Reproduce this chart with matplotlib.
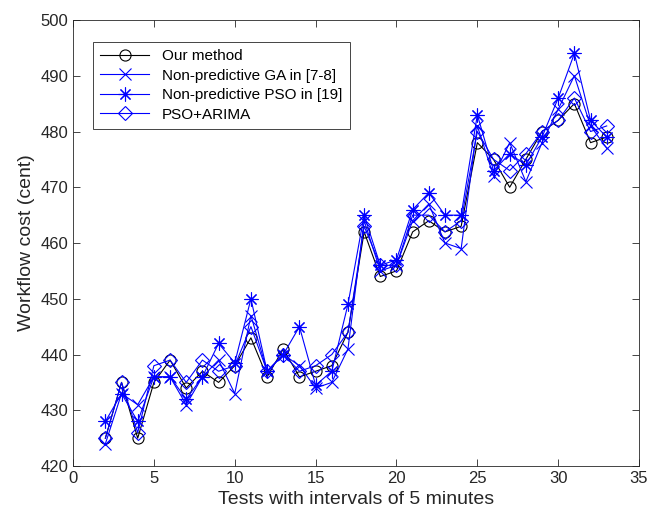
import matplotlib
matplotlib.use('Agg')
import matplotlib.pyplot as plt

plt.rcParams['font.family'] = ['Liberation Sans', 'DejaVu Sans']

# 테스트 번호 (5분 간격)
tests = list(range(2, 34))

our_method = [425, 435, 425, 435, 439, 434, 437, 435, 438, 443, 436, 441, 436, 437, 438, 444,
              462, 454, 455, 462, 464, 462, 463, 478, 475, 470, 475, 480, 482, 485, 478, 479]
ga = [424, 433, 431, 436, 436, 431, 436, 439, 433, 447, 437, 440, 438, 434, 435, 441,
      464, 455, 456, 464, 467, 460, 459, 481, 472, 478, 471, 478, 484, 490, 481, 477]
pso = [428, 433, 428, 436, 436, 432, 436, 442, 438.5, 450, 437, 440, 445, 434.5, 437, 449,
       465, 456, 457, 466, 469, 465, 465, 483, 473, 476, 474, 479, 486, 494, 482, 479]
pso_arima = [425, 435, 426, 438, 439, 435, 439, 437, 438, 445, 437, 440, 437, 438, 440, 444,
             463, 456, 456, 465, 465, 462, 464, 480, 475, 473, 476, 480, 482, 486, 480, 481]

labels = ['Our method', 'Non-predictive GA in [7-8]', 'Non-predictive PSO in [19]', 'PSO+ARIMA']

axcol = '#262626'
fig = plt.figure(figsize=(6.48, 5.19), dpi=100)
ax = fig.add_axes([0.1127, 0.102, 0.8735, 0.8595])

ax.plot(tests, our_method, color='black', lw=0.8, marker='o', ms=8, mfc='none', mew=0.8, label=labels[0])
ax.plot(tests, ga, color='#0000ff', lw=0.8, marker='x', ms=8, mew=0.8, label=labels[1])
ax.plot(tests, pso, color='#0000ff', lw=0.8, marker=(8, 2, 0), ms=10, mew=0.8, label=labels[2])
ax.plot(tests, pso_arima, color='#0000ff', lw=0.8, marker='D', ms=7, mfc='none', mew=0.8, label=labels[3])

ax.set_xlim(0, 35)
ax.set_ylim(420, 500)
ax.set_xticks(range(0, 36, 5))
ax.set_yticks(range(420, 501, 10))
ax.tick_params(direction='in', top=True, right=True, labelsize=12, colors=axcol, length=5, width=0.6)
for s in ax.spines.values():
    s.set_color(axcol)
    s.set_linewidth(0.6)

ax.set_xlabel('Tests with intervals of 5 minutes', fontsize=14, color=axcol)
ax.set_ylabel('Workflow cost (cent)', fontsize=14, color=axcol)

leg = ax.legend(loc='upper left', bbox_to_anchor=(0.035, 0.951), borderaxespad=0, fontsize=11,
                fancybox=False, edgecolor=axcol, framealpha=1, handlelength=3.2,
                borderpad=0.5, labelspacing=0.35)
leg.get_frame().set_linewidth(0.6)

plt.savefig('out.png')
